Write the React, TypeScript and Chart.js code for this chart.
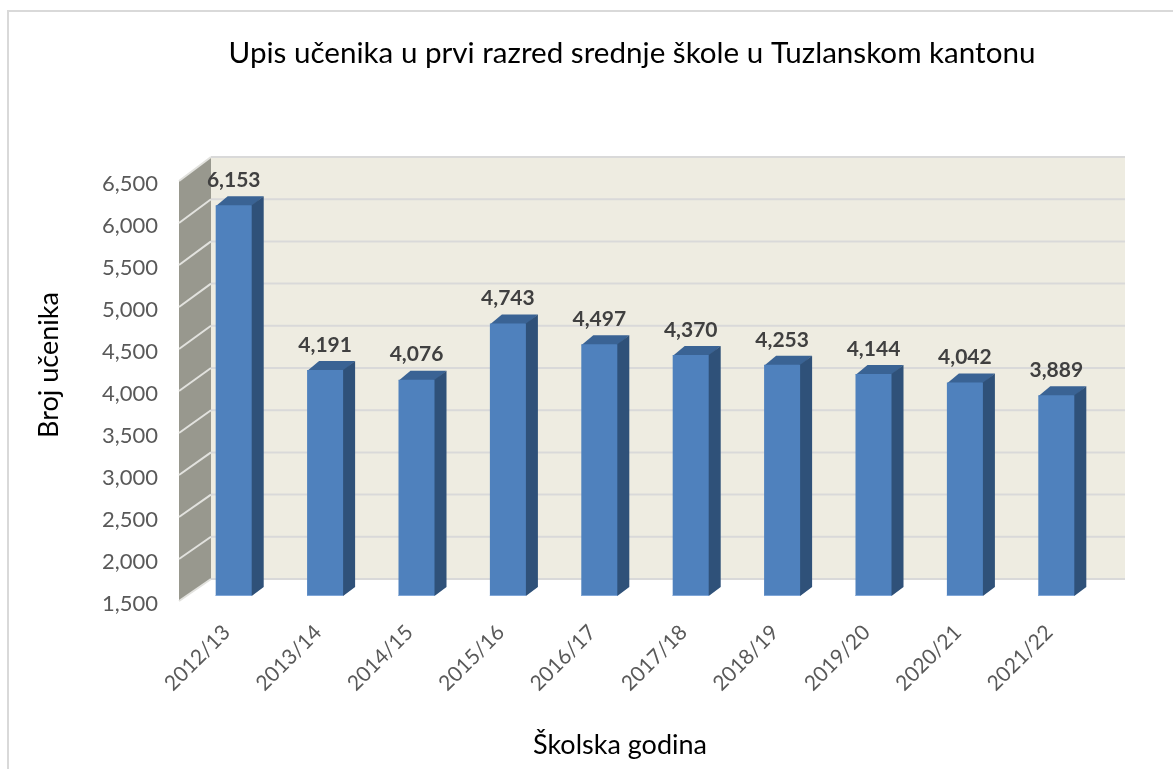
import React, { useEffect, useRef } from "react";
import { Chart, registerables } from "chart.js";

Chart.register(...registerables);

const years = ["2012/13", "2013/14", "2014/15", "2015/16", "2016/17", "2017/18", "2018/19", "2019/20", "2020/21", "2021/22"];
const students = [6153, 4191, 4076, 4743, 4497, 4370, 4253, 4144, 4042, 3889];
const chartTitle = "Upis učenika u prvi razred srednje škole u Tuzlanskom kantonu";
const yTitle = "Broj učenika";
const xTitle = "Školska godina";

const FONT = "Lato, Carlito, Calibri, sans-serif";
const WALL_DX = 32, WALL_DY_TOP = -24, WALL_DY_BOTTOM = -22;
const BAR_DX = 9, BAR_DY = -5;
const SIDE_DX = 12, SIDE_DY = -9;
const fmt = (v: number) => v.toLocaleString("en-US");

const threeD = {
  id: "threeD",
  afterLayout(chart: any) {
    // nudge titles onto their reference positions
    chart.titleBlock.left += 69;
    chart.titleBlock.right += 69;
    const wrap = (scale: any, dx: number, dy: number) => {
      const orig = scale.drawTitle;
      scale.drawTitle = function (...a: any[]) {
        chart.ctx.save();
        chart.ctx.translate(dx, dy);
        orig.apply(this, a);
        chart.ctx.restore();
      };
    };
    wrap(chart.scales.x, -16, 0);
    wrap(chart.scales.y, 0, -26);
  },
  beforeDraw(chart: any) {
    const { ctx, chartArea: a, scales: { y } } = chart;
    const wallY = (py: number) => py + WALL_DY_TOP + ((WALL_DY_BOTTOM - WALL_DY_TOP) * (py - a.top)) / a.height;
    ctx.save();
    // outer frame
    ctx.strokeStyle = "#d9d9d9";
    ctx.lineWidth = 2;
    ctx.beginPath();
    ctx.moveTo(8, 769);
    ctx.lineTo(8, 11);
    ctx.lineTo(1173, 11);
    ctx.stroke();
    // back wall
    ctx.fillStyle = "#eeece1";
    ctx.fillRect(a.left + WALL_DX, wallY(a.top), a.width, wallY(a.bottom) - wallY(a.top));
    // side wall
    ctx.fillStyle = "#98988e";
    ctx.beginPath();
    ctx.moveTo(a.left, a.top);
    ctx.lineTo(a.left + WALL_DX, wallY(a.top));
    ctx.lineTo(a.left + WALL_DX, wallY(a.bottom));
    ctx.lineTo(a.left, a.bottom);
    ctx.closePath();
    ctx.fill();
    // gridlines
    ctx.lineWidth = 2;
    for (const t of y.ticks) {
      const py = y.getPixelForValue(t.value);
      ctx.strokeStyle = "#e2e2de";
      ctx.beginPath();
      ctx.moveTo(a.left, py);
      ctx.lineTo(a.left + WALL_DX, wallY(py));
      ctx.stroke();
      ctx.strokeStyle = "#d9d9d9";
      ctx.beginPath();
      ctx.moveTo(a.left + WALL_DX, wallY(py));
      ctx.lineTo(a.right + WALL_DX, wallY(py));
      ctx.stroke();
    }
    ctx.restore();
  },
  beforeDatasetsDraw(chart: any) {
    const ctx = chart.ctx;
    ctx.save();
    ctx.translate(BAR_DX, BAR_DY);
    for (const bar of chart.getDatasetMeta(0).data) {
      const l = bar.x - bar.width / 2, r = bar.x + bar.width / 2;
      ctx.fillStyle = "#3a6394";
      ctx.beginPath();
      ctx.moveTo(l, bar.y + 1);
      ctx.lineTo(l + SIDE_DX, bar.y + SIDE_DY);
      ctx.lineTo(r + SIDE_DX, bar.y + SIDE_DY);
      ctx.lineTo(r, bar.y + 1);
      ctx.closePath();
      ctx.fill();
      ctx.fillStyle = "#2f5179";
      ctx.beginPath();
      ctx.moveTo(r - 1, bar.y);
      ctx.lineTo(r, bar.y);
      ctx.lineTo(r + SIDE_DX, bar.y + SIDE_DY);
      ctx.lineTo(r + SIDE_DX, bar.base + SIDE_DY);
      ctx.lineTo(r, bar.base);
      ctx.lineTo(r - 1, bar.base);
      ctx.closePath();
      ctx.fill();
    }
  },
  afterDatasetsDraw(chart: any) {
    const ctx = chart.ctx;
    ctx.restore();
    ctx.save();
    ctx.font = `bold 21px ${FONT}`;
    ctx.fillStyle = "#404040";
    ctx.textAlign = "center";
    ctx.textBaseline = "middle";
    chart.getDatasetMeta(0).data.forEach((bar: any, i: number) => {
      // light lower edge of the bar's front face
      ctx.fillStyle = "#7fa6d8";
      ctx.fillRect(bar.x + BAR_DX - bar.width / 2, bar.base + BAR_DY - 1, bar.width, 1);
      ctx.fillStyle = "#404040";
      ctx.fillText(fmt(students[i]), bar.x + BAR_DX, bar.y + BAR_DY - 25);
    });
    ctx.restore();
  },
};

export default function App() {
  const ref = useRef<HTMLCanvasElement>(null);
  useEffect(() => {
    const chart = new Chart(ref.current!, {
      type: "bar",
      data: {
        labels: years,
        datasets: [{
          data: students,
          base: 1500,
          backgroundColor: "#4f81bd",
          barPercentage: 0.394,
          categoryPercentage: 1,
        }],
      },
      plugins: [threeD],
      options: {
        animation: false,
        responsive: false,
        layout: { padding: { left: 33, right: 80, top: 20, bottom: 8 } },
        plugins: {
          legend: { display: false },
          tooltip: { enabled: false },
          title: {
            display: true,
            text: chartTitle,
            color: "#000000",
            font: { family: FONT, size: 29.6, weight: "normal" },
            padding: { top: 16, bottom: 109.5 },
          },
        },
        scales: {
          x: {
            grid: { display: false },
            border: { display: false },
            ticks: {
              color: "#595959",
              font: { family: FONT, size: 21 },
              minRotation: 45,
              maxRotation: 45,
              padding: 11,
              labelOffset: 2,
            },
            title: { display: true, text: xTitle, color: "#000000", font: { family: FONT, size: 27 }, padding: 0 },
            afterFit: (s: any) => { s.height = 160; },
          },
          y: {
            min: 1500,
            max: 6500,
            grid: { display: false },
            border: { display: false },
            ticks: {
              stepSize: 500,
              color: "#595959",
              font: { family: FONT, size: 22 },
              padding: 13,
              labelOffset: 3,
              callback: (v: any) => fmt(Number(v)),
            },
            title: { display: true, text: yTitle, color: "#000000", font: { family: FONT, size: 27 }, padding: 0 },
            afterFit: (s: any) => { s.width = 146; },
          },
        },
      },
    } as any);
    return () => chart.destroy();
  }, []);
  return (
    <canvas
      ref={ref}
      width={1173}
      height={769}
      style={{ position: "absolute", left: 0, top: 0, display: "block" }}
    />
  );
}
